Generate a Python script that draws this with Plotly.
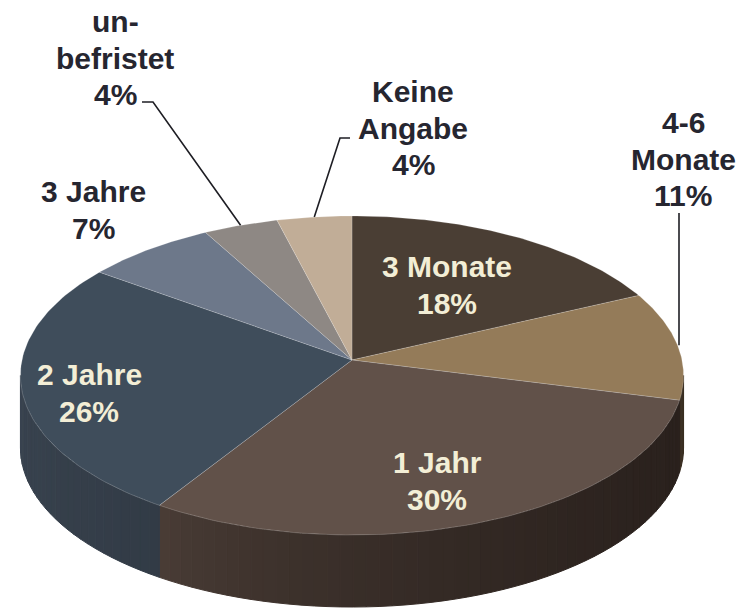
import math
import numpy as np
import plotly.graph_objects as go

# ---------------- data ----------------
categories = ["3 Monate", "4-6 Monate", "1 Jahr", "2 Jahre", "3 Jahre", "unbefristet", "Keine Angabe"]
values = [18, 11, 30, 26, 7, 4, 4]
display_lines = [["3 Monate"], ["4-6", "Monate"], ["1 Jahr"], ["2 Jahre"], ["3 Jahre"],
                 ["un-", "befristet"], ["Keine", "Angabe"]]

# ---------------- style ----------------
top_colors = ["#4a3e34", "#947b59", "#615149", "#3f4d5b", "#6d788a", "#8e8884", "#c1ad97"]
side_colors = {  # (left colour, right colour)
    "4-6 Monate": ("#3e3226", "#3a2e22"),
    "1 Jahr": ("#4b3e37", "#2a211d"),
    "2 Jahre": ("#39434f", "#323b46"),
    "3 Monate": ("#2e261f", "#2a221c"),
}
inside = {"3 Monate", "1 Jahr", "2 Jahre"}
label_pos = {
    "3 Monate": (447, 285), "1 Jahr": (437, 481), "2 Jahre": (89, 393),
    "3 Jahre": (93, 210), "unbefristet": (115, 58), "Keine Angabe": (413, 128),
    "4-6 Monate": (683, 159),
}
leader_start = {
    "unbefristet": [(142, 102), (153, 102)],
    "Keine Angabe": [(350, 138), (340, 138)],
    "4-6 Monate": [(679, 213)],
}
INNER_COLOR = "#f3eed6"
OUTER_COLOR = "#262630"
FONT = "Liberation Sans, Arial, sans-serif"
FSIZE = 30
LINE_GAP = 36.5

# perspective geometry of the tilted pie (pixel space)
CX, CY = 352, 360
KX, M, E = 330, 158, 0.0972
DEPTH = 72


def proj(theta_deg):
    t = np.radians(theta_deg)
    u, v = np.sin(t), np.cos(t)
    w = 1 + E * v
    return CX + KX * u / w, CY - M * v / w


def hex2rgb(h):
    h = h.lstrip("#")
    return [int(h[i:i + 2], 16) for i in (0, 2, 4)]


def mix(c1, c2, f):
    a, b = hex2rgb(c1), hex2rgb(c2)
    return "rgb(%d,%d,%d)" % tuple(round(a[i] + (b[i] - a[i]) * f) for i in range(3))


total = sum(values)
cum = np.concatenate([[0], np.cumsum(values)]) / total * 360.0
sil = math.degrees(math.asin(E))
vis_lo, vis_hi = 90 + sil, 270 - sil

fig = go.Figure()

# ---- side walls ----
for i, name in enumerate(categories):
    a0, a1 = cum[i], cum[i + 1]
    lo, hi = max(a0, vis_lo), min(a1, vis_hi)
    if lo >= hi:
        continue
    cl, cr = side_colors.get(name, (top_colors[i], top_colors[i]))
    xs_all, _ = proj(np.linspace(lo, hi, 50))
    xl, xr = xs_all.min(), xs_all.max()
    nstrip = max(2, int((hi - lo) / 2))
    edges = np.linspace(lo, hi, nstrip + 1)
    for s in range(nstrip):
        th = np.linspace(edges[s], edges[s + 1], 4)
        x, y = proj(th)
        px = np.concatenate([x, x[::-1], [x[0]]])
        py = np.concatenate([y, (y + DEPTH)[::-1], [y[0]]])
        xm = x.mean()
        f = 0 if xr == xl else ((xm - xl) / (xr - xl))
        f = min(max(f, 0), 1) ** 0.6
        col = mix(cl, cr, f)
        fig.add_trace(go.Scatter(x=px, y=py, mode="lines", fill="toself",
                                 fillcolor=col, line=dict(color=col, width=1),
                                 hoverinfo="skip", showlegend=False))

# ---- top faces ----
for i, name in enumerate(categories):
    th = np.linspace(cum[i], cum[i + 1], 80)
    x, y = proj(th)
    px = np.concatenate([[CX], x, [CX]])
    py = np.concatenate([[CY], y, [CY]])
    fig.add_trace(go.Scatter(x=px, y=py, mode="lines", fill="toself",
                             fillcolor=top_colors[i],
                             line=dict(color="rgba(255,255,255,0.18)", width=1),
                             hoverinfo="skip", showlegend=False, name=name))

# ---- leader lines ----
for i, name in enumerate(categories):
    if name not in leader_start:
        continue
    mid = (cum[i] + cum[i + 1]) / 2
    ex, ey = proj(mid)
    pts = leader_start[name] + [(float(ex), float(ey))]
    if name == "4-6 Monate":
        pts = [(pts[0][0], pts[0][1]), (pts[0][0], float(ey))]
    fig.add_trace(go.Scatter(x=[p[0] for p in pts], y=[p[1] for p in pts], mode="lines",
                             line=dict(color="#1e1e24", width=1.6),
                             hoverinfo="skip", showlegend=False))

# ---- labels (one annotation per text line) ----
for i, name in enumerate(categories):
    x, yc = label_pos[name]
    lines = display_lines[i] + ["%d%%" % values[i]]
    n = len(lines)
    for k, txt in enumerate(lines):
        y = yc + (k - (n - 1) / 2) * LINE_GAP
        fig.add_annotation(x=x, y=y, xref="x", yref="y", showarrow=False,
                           text="<b>%s</b>" % txt,
                           font=dict(family=FONT, size=FSIZE,
                                     color=INNER_COLOR if name in inside else OUTER_COLOR),
                           align="center", xanchor="center", yanchor="middle")

fig.update_layout(
    width=756, height=608,
    margin=dict(l=0, r=0, t=0, b=0),
    paper_bgcolor="white", plot_bgcolor="white",
    xaxis=dict(range=[0, 756], visible=False, fixedrange=True),
    yaxis=dict(range=[608, 0], visible=False, fixedrange=True),
    showlegend=False,
)

fig.write_html("out.html", config={"displayModeBar": False},
               post_script="document.body.style.margin='0';")
